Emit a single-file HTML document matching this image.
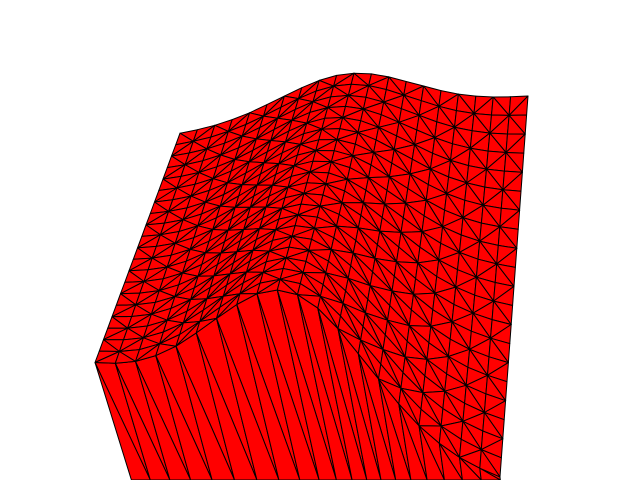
<!DOCTYPE html>
<html><head><meta charset="utf-8"><style>
html,body{margin:0;padding:0;background:#fff;overflow:hidden;width:640px;height:480px;}
svg{display:block;overflow:hidden}
</style></head><body>
<svg id="chart" width="640" height="480" viewBox="0 0 640 480" xmlns="http://www.w3.org/2000/svg">
<g id="wall"></g>
<g id="surf"></g>
</svg>
<script>
// bump profile along the x-direction (normalised)
const profile = [0.042,0.08,0.137,0.225,0.34,0.485,0.64,0.79,0.916,0.988,0.995,0.935,0.82,0.67,0.52,0.37,0.245,0.153,0.088,0.048,0.024];
// bump amplitude at back edge and front edge (pixels)
const amplitudes = [43, 130];
const N = profile.length - 1, M = 20;
const TL=[180,135], TR=[528,97], BL=[95,368], BR=[500,480];
const NS='http://www.w3.org/2000/svg';
function pt(i,j){
  const u=i/N, v=j/M;
  const x=(1-u)*(1-v)*TL[0]+u*(1-v)*TR[0]+(1-u)*v*BL[0]+u*v*BR[0];
  let y=(1-u)*(1-v)*TL[1]+u*(1-v)*TR[1]+(1-u)*v*BL[1]+u*v*BR[1];
  y -= profile[i]*(amplitudes[0]*(1-v)+amplitudes[1]*v);
  return [x,y];
}
function tri(g,pts,name){
  const p=document.createElementNS(NS,'polygon');
  p.setAttribute('points',pts.map(q=>q[0].toFixed(1)+','+Math.min(480,q[1]).toFixed(1)).join(' '));
  p.setAttribute('fill','#ff0000');
  p.setAttribute('stroke','#000');
  p.setAttribute('stroke-width','1');
  p.setAttribute('stroke-linejoin','round');
  
  
  g.appendChild(p);
}
const wall=document.getElementById('wall'), surf=document.getElementById('surf');
// front wall
function wallFoot(i){
  const a=pt(i,M);
  const s=0.31-0.2*(i/N);
  return [a[0]+s*(480-a[1]),480];
}
for(let i=0;i<N;i++){
  const a=pt(i,M), b=pt(i+1,M);
  const a2=wallFoot(i), b2=wallFoot(i+1);
  tri(wall,[a,b,b2],'wall-triangle');
  tri(wall,[a,b2,a2],'wall-triangle');
}
// surface
for(let j=0;j<M;j++){
  for(let i=0;i<N;i++){
    const p00=pt(i,j),p10=pt(i+1,j),p01=pt(i,j+1),p11=pt(i+1,j+1);
    if((i+j)%2===0){tri(surf,[p00,p10,p11],'mesh-triangle');tri(surf,[p00,p11,p01],'mesh-triangle');}
    else{tri(surf,[p00,p10,p01],'mesh-triangle');tri(surf,[p10,p11,p01],'mesh-triangle');}
  }
}
</script>
</body></html>
